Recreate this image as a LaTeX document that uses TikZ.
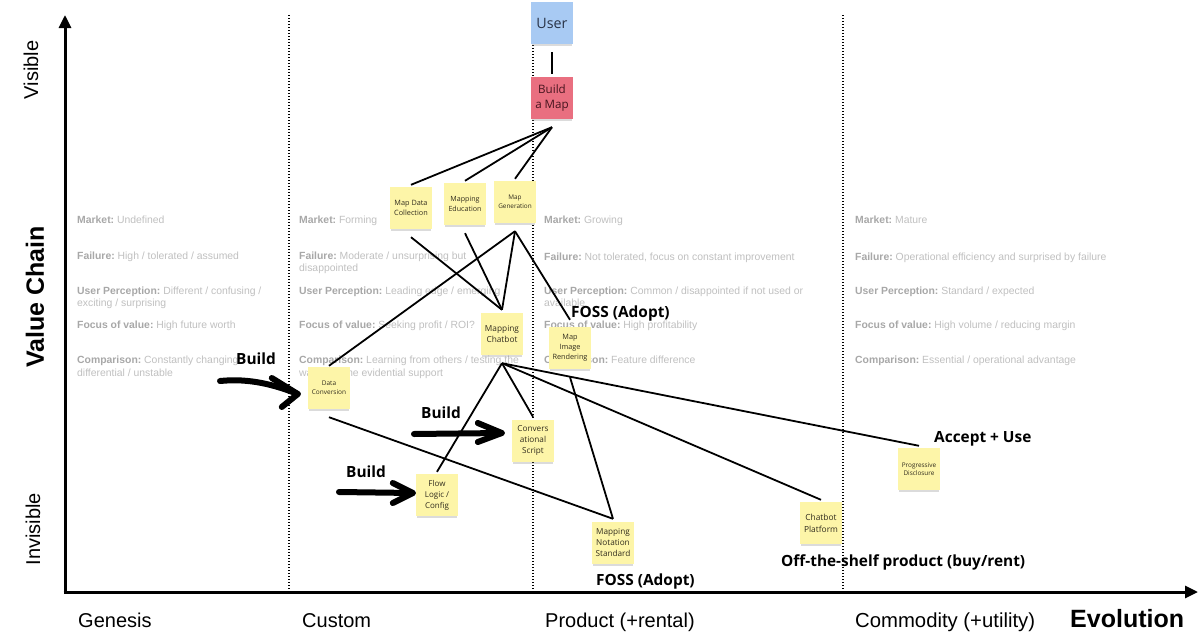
\documentclass[tikz,border=0pt]{standalone}
\usepackage{fontspec}
\setmainfont{Liberation Sans}
\newfontfamily\osans{Open Sans}
\usetikzlibrary{arrows.meta,shadows}
\definecolor{sticky}{RGB}{253,245,168}
\definecolor{userblue}{RGB}{168,202,243}
\definecolor{mapred}{RGB}{233,111,128}
\definecolor{glab}{RGB}{168,168,168}
\definecolor{gval}{RGB}{192,192,192}
\definecolor{stext}{RGB}{50,45,30}
\newcommand{\wmitem}[2]{{\bfseries\color{glab}#1:}~#2}
\begin{document}
\begin{tikzpicture}[x=1pt,y=-1pt,
  note/.style={fill=sticky, minimum width=42pt, minimum height=42pt, inner sep=1pt, align=center, text=stext,
    drop shadow={shadow xshift=0pt,shadow yshift=-3pt,opacity=0.28,shadow scale=0.97}},
  link/.style={line width=1.8pt, black},
  divider/.style={line width=1.5pt, dash pattern=on 1.4pt off 1.6pt},
  gtxt/.style={anchor=base west, inner sep=0pt, font=\fontsize{10.4}{13}\selectfont, text=gval},
  tag/.style={anchor=base west, inner sep=0pt, font=\osans\bfseries\fontsize{15.4}{18}\selectfont},
  brush/.style={line width=6pt, line cap=round, line join=round},
  axis/.style={line width=3pt, -{Triangle[length=13pt,width=12pt]}},
  axlabel/.style={anchor=base west, inner sep=0pt, font=\fontsize{20}{24}\selectfont},
]
\fill[white] (0,0) rectangle (1200,640);
\useasboundingbox (0,0) rectangle (1200,640);

% dividers
\draw[divider] (289,15) -- (289,590);
\draw[divider] (533,15) -- (533,590);
\draw[divider] (843,15) -- (843,590);

% grey characteristic texts
\node[gtxt] (g1a) at (77,223) {\wmitem{Market}{Undefined}};
\node[gtxt] (g1b) at (77,259) {\wmitem{Failure}{High / tolerated / assumed}};
\node[gtxt] (g1c) at (77,294) {\wmitem{User Perception}{Different / confusing /}};
\node[gtxt] (g1c2) at (77,306) {exciting / surprising};
\node[gtxt] (g1d) at (77,328) {\wmitem{Focus of value}{High future worth}};
\node[gtxt] (g1e) at (77,363) {\wmitem{Comparison}{Constantly changing}};
\node[gtxt] (g1e2) at (77,376) {differential / unstable};

\node[gtxt] (g2a) at (299,223) {\wmitem{Market}{Forming}};
\node[gtxt] (g2b) at (299,259) {\wmitem{Failure}{Moderate / unsurprising but}};
\node[gtxt] (g2b2) at (299,271) {disappointed};
\node[gtxt] (g2c) at (299,294) {\wmitem{User Perception}{Leading edge / emerging}};
\node[gtxt] (g2d) at (299,328) {\wmitem{Focus of value}{Seeking profit / ROI?}};
\node[gtxt] (g2e) at (299,363) {\wmitem{Comparison}{Learning from others / testing the}};
\node[gtxt] (g2e2) at (299,376) {water / some evidential support};

\node[gtxt] (g3a) at (544,223) {\wmitem{Market}{Growing}};
\node[gtxt] (g3b) at (544,260) {\wmitem{Failure}{Not tolerated, focus on constant improvement}};
\node[gtxt] (g3c) at (544,294) {\wmitem{User Perception}{Common / disappointed if not used or}};
\node[gtxt] (g3c2) at (544,306) {available};
\node[gtxt] (g3d) at (544,328) {\wmitem{Focus of value}{High profitability}};
\node[gtxt] (g3e) at (544,363) {\wmitem{Comparison}{Feature difference}};

\node[gtxt] (g4a) at (855,223) {\wmitem{Market}{Mature}};
\node[gtxt] (g4b) at (855,260) {\wmitem{Failure}{Operational efficiency and surprised by failure}};
\node[gtxt] (g4c) at (855,294) {\wmitem{User Perception}{Standard / expected}};
\node[gtxt] (g4d) at (855,328) {\wmitem{Focus of value}{High volume / reducing margin}};
\node[gtxt] (g4e) at (855,363) {\wmitem{Comparison}{Essential / operational advantage}};

% stickies
\node[note, fill=userblue, text={rgb,255:red,40;green,50;blue,70}, font=\osans\fontsize{14.3}{17}\selectfont] (user) at (552,23) {User};
\node[note, fill=mapred, text={rgb,255:red,70;green,20;blue,30}, font=\osans\fontsize{11.6}{15}\selectfont] (bam) at (552,98) {Build\\a Map};
\node[note, font=\osans\fontsize{7.3}{10}\selectfont] (mdc) at (411,208) {Map Data\\Collection};
\node[note, font=\osans\fontsize{7.1}{9.6}\selectfont] (med) at (465,204) {Mapping\\Education};
\node[note, font=\osans\fontsize{6.4}{8.6}\selectfont] (mgen) at (515,202) {Map\\Generation};
\node[note, font=\osans\fontsize{8.3}{11}\selectfont] (chat) at (502,334) {Mapping\\Chatbot};
\node[note, font=\osans\fontsize{7.3}{10}\selectfont] (mir) at (570,348) {Map\\Image\\Rendering};
\node[note, font=\osans\fontsize{6.5}{9}\selectfont] (dc) at (329,388) {Data\\Conversion};
\node[note, font=\osans\fontsize{8.2}{11}\selectfont] (cs) at (533,441) {Convers\\ational\\Script};
\node[note, font=\osans\fontsize{8}{11}\selectfont] (flc) at (437,495) {Flow\\Logic /\\Config};
\node[note, font=\osans\fontsize{8.2}{11}\selectfont] (mns) at (613,543) {Mapping\\Notation\\Standard};
\node[note, font=\osans\fontsize{8.4}{12}\selectfont] (cp) at (821,523) {Chatbot\\Platform};
\node[note, font=\osans\fontsize{6.4}{8.6}\selectfont] (pd) at (919,469) {Progressive\\Disclosure};

% connectors
\draw[link] ([yshift=-8pt]user.south) -- ([yshift=3pt]bam.north);
\draw[link] ([yshift=-8pt]bam.south) -- ([yshift=2pt]mdc.north);
\draw[link] ([yshift=-8pt]bam.south) -- ([yshift=2pt]med.north);
\draw[link] ([yshift=-8pt]bam.south) -- ([yshift=2pt]mgen.north);
\draw[link] ([yshift=-8pt]mdc.south) -- ([yshift=3pt]chat.north);
\draw[link] ([yshift=-8pt]med.south) -- ([yshift=3pt]chat.north);
\draw[link] ([yshift=-8pt]mgen.south) -- ([yshift=3pt]chat.north);
\draw[link] ([yshift=-8pt]mgen.south) -- ([yshift=1pt]dc.north);
\draw[link] ([yshift=-8pt]mgen.south) -- ([yshift=7pt]mir.north);
\draw[link] ([yshift=-8pt]chat.south) -- ([yshift=2pt]flc.north);
\draw[link] ([yshift=-8pt]chat.south) -- ([yshift=3pt]cs.north);
\draw[link] ([yshift=-8pt]chat.south) -- ([yshift=2pt]cp.north);
\draw[link] ([yshift=-8pt]chat.south) -- ([yshift=2pt]pd.north);
\draw[link] ([yshift=-8pt]dc.south) -- ([yshift=3pt]mns.north);
\draw[link] ([yshift=-8pt]mir.south) -- ([yshift=3pt]mns.north);

% build arrows
\coordinate (b1s) at (220,381);
\coordinate (b2s) at (414,434);
\coordinate (b3s) at (339,492);
\draw[brush] (b1s) .. controls (250,378) and (275,385) .. ([shift={(-10pt,-6pt)}]dc.west);
\draw[brush] ([shift={(-10pt,-6pt)}]dc.west) ++(-26,-16) -- ++(26,16) -- ++(-16,13);
\draw[brush] (b2s) -- ([shift={(-10pt,8pt)}]cs.west);
\draw[brush] ([shift={(-10pt,8pt)}]cs.west) ++(-24,-10) -- ++(24,10) -- ++(-24,9);
\draw[brush] (b3s) -- ([shift={(-3pt,2pt)}]flc.west);
\draw[brush] ([shift={(-3pt,2pt)}]flc.west) ++(-20,-10) -- ++(20,10) -- ++(-20,10);

% labels
\node[tag] (bl1) at (236,364) {Build};
\node[tag] (bl2) at (421,418) {Build};
\node[tag] (bl3) at (346,477) {Build};
\node[tag] (foss1) at (571,317) {FOSS (Adopt)};
\node[tag] (acc) at (934,442) {Accept + Use};
\node[tag] (ots) at (781,566) {Off-the-shelf product (buy/rent)};
\node[tag] (foss2) at (596,585) {FOSS (Adopt)};

% axes
\coordinate (origin) at (65,592);
\coordinate (ytop) at (65,15);
\coordinate (xend) at (1198,592);
\draw[axis] ([yshift=-1.5pt]origin) -- (ytop);
\draw[axis] ([xshift=-1.5pt]origin) -- (xend);

\node[axlabel, anchor=center, rotate=90] (vis) at (31,70) {Visible};
\node[axlabel, anchor=center, rotate=90, font=\bfseries\fontsize{25}{30}\selectfont] (vc) at (35,297) {Value Chain};
\node[axlabel, anchor=center, rotate=90] (invis) at (33,529) {Invisible};

\node[axlabel] (gen) at (78,627) {Genesis};
\node[axlabel] (cus) at (302,627) {Custom};
\node[axlabel] (prod) at (545,627) {Product (+rental)};
\node[axlabel, font=\fontsize{20.3}{24}\selectfont] (comm) at (855,627) {Commodity (+utility)};
\node[axlabel, font=\bfseries\fontsize{25}{30}\selectfont] (evo) at (1070,627) {Evolution};
\end{tikzpicture}
\end{document}
